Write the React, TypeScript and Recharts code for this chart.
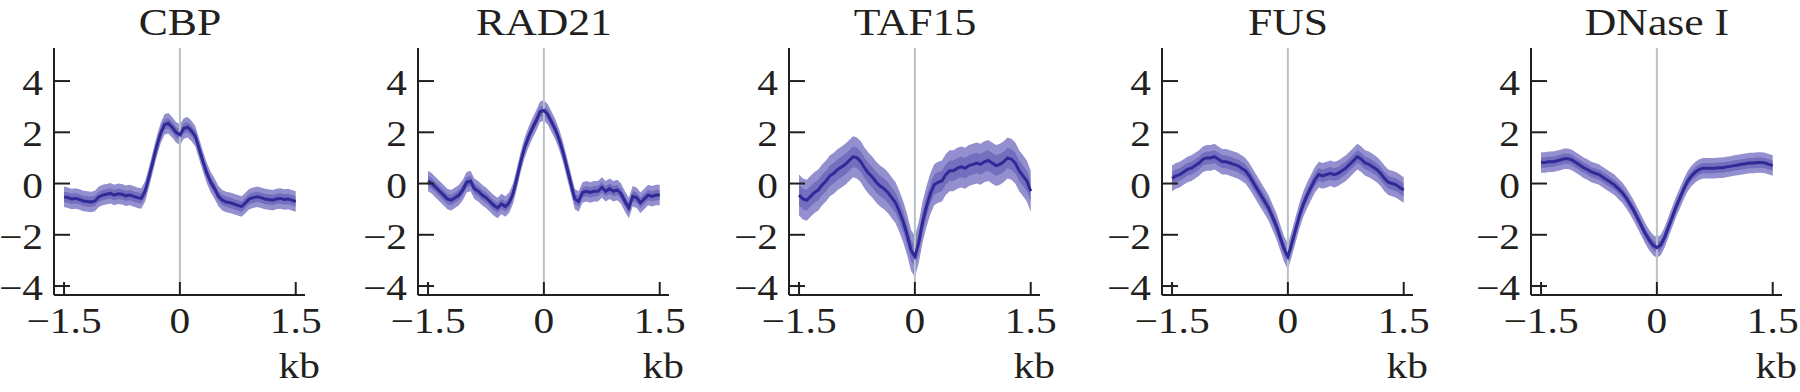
import React from 'react';
import { ComposedChart, Area, Line, XAxis, YAxis, ReferenceLine } from 'recharts';

// position along the region, kb
const KB = [
  -1.5, -1.45, -1.4, -1.35, -1.3, -1.25, -1.2, -1.15, -1.1, -1.05,
  -1.0, -0.95, -0.9, -0.85, -0.8, -0.75, -0.7, -0.65, -0.6, -0.55,
  -0.5, -0.45, -0.4, -0.35, -0.3, -0.25, -0.2, -0.15, -0.1, -0.05,
  0, 0.05, 0.1, 0.15, 0.2, 0.25, 0.3, 0.35, 0.4, 0.45,
  0.5, 0.55, 0.6, 0.65, 0.7, 0.75, 0.8, 0.85, 0.9, 0.95,
  1.0, 1.05, 1.1, 1.15, 1.2, 1.25, 1.3, 1.35, 1.4, 1.45, 1.5,
];

const CBP = [
  -0.52, -0.55, -0.6, -0.58, -0.62, -0.68, -0.7, -0.72, -0.68, -0.52,
  -0.45, -0.42, -0.38, -0.45, -0.4, -0.42, -0.48, -0.45, -0.5, -0.55,
  -0.58, -0.3, 0.25, 0.85, 1.45, 1.95, 2.3, 2.35, 2.2, 2.0,
  1.9, 2.15, 2.2, 2.05, 1.85, 1.35, 0.85, 0.4, 0.05, -0.2,
  -0.5, -0.65, -0.72, -0.75, -0.8, -0.85, -0.9, -0.75, -0.6, -0.55,
  -0.52, -0.55, -0.6, -0.62, -0.65, -0.6, -0.58, -0.62, -0.6, -0.65, -0.7,
];

const RAD21 = [
  0.1, 0.0, -0.15, -0.3, -0.45, -0.6, -0.65, -0.55, -0.45, -0.25,
  0.05, 0.1, -0.2, -0.3, -0.45, -0.55, -0.7, -0.85, -0.95, -0.8,
  -0.9, -0.75, -0.4, 0.2, 0.85, 1.4, 1.8, 2.15, 2.45, 2.8,
  2.85, 2.7, 2.4, 2.1, 1.7, 1.2, 0.6, 0.0, -0.6, -0.7,
  -0.35, -0.3, -0.35, -0.3, -0.3, -0.15, -0.3, -0.2, -0.3, -0.25,
  -0.4, -0.7, -0.95, -0.5, -0.55, -0.75, -0.6, -0.45, -0.5, -0.45, -0.45,
];

const TAF15 = [
  -0.45, -0.6, -0.65, -0.5, -0.35, -0.25, -0.05, 0.1, 0.3, 0.4,
  0.55, 0.65, 0.75, 0.9, 1.05, 1.0, 0.85, 0.6, 0.4, 0.25,
  0.05, -0.1, -0.2, -0.35, -0.55, -0.75, -1.1, -1.5, -2.0, -2.6,
  -2.85, -2.3, -1.5, -0.9, -0.4, -0.05, 0.05, 0.1, 0.35, 0.5,
  0.5, 0.6, 0.65, 0.6, 0.7, 0.75, 0.8, 0.75, 0.85, 0.9,
  0.8, 0.7, 0.75, 0.85, 1.0, 0.95, 0.8, 0.5, 0.3, 0.1, -0.3,
];

const FUS = [
  0.2, 0.3, 0.35, 0.45, 0.55, 0.6, 0.7, 0.8, 0.95, 1.0,
  1.0, 1.05, 0.95, 0.85, 0.85, 0.8, 0.75, 0.7, 0.6, 0.5,
  0.3, 0.05, -0.2, -0.45, -0.7, -0.95, -1.3, -1.65, -2.1, -2.55,
  -2.85, -2.35, -1.8, -1.25, -0.8, -0.45, -0.15, 0.15, 0.35, 0.3,
  0.35, 0.4, 0.35, 0.4, 0.5, 0.6, 0.75, 0.9, 1.05, 0.95,
  0.8, 0.75, 0.65, 0.55, 0.4, 0.2, 0.05, 0.0, -0.05, -0.15, -0.25,
];

const DNASE = [
  0.82, 0.82, 0.85, 0.85, 0.88, 0.92, 0.97, 0.97, 0.92, 0.82,
  0.72, 0.62, 0.55, 0.45, 0.4, 0.35, 0.25, 0.15, 0.05, -0.05,
  -0.2, -0.35, -0.55, -0.8, -1.05, -1.35, -1.65, -1.95, -2.2, -2.4,
  -2.5, -2.4, -2.1, -1.7, -1.3, -0.9, -0.55, -0.2, 0.1, 0.3,
  0.45, 0.55, 0.6, 0.6, 0.6, 0.6, 0.62, 0.62, 0.65, 0.67,
  0.7, 0.72, 0.75, 0.77, 0.8, 0.8, 0.82, 0.82, 0.8, 0.75, 0.7,
];

const TITLES = ['CBP', 'RAD21', 'TAF15', 'FUS', 'DNase I'];
const SERIES = [CBP, RAD21, TAF15, FUS, DNASE];
// half widths of the shaded bands
const OUTER_BAND = [0.4, 0.4, 0.8, 0.5, 0.4];
const INNER_BAND = [0.2, 0.2, 0.4, 0.25, 0.2];

const X_TICKS = [-1.5, 0, 1.5];
const Y_TICKS = [-4, -2, 0, 2, 4];

// layout
const AXIS_LEFT = [54, 418, 789, 1162, 1531];
const PLOT_W = 251;
const PLOT_TOP = 48;
const PLOT_BOTTOM = 295;
const Y_AXIS_W = 60;
const STRETCH = 1.15;
const FONT = '"Liberation Serif", "DejaVu Serif", serif';
const INK = '#231f20';

const fmt = (v: number) => String(v).replace('-', '\u2212');

const XTick = (props: any) => {
  const { x, y, payload } = props;
  return (
    <text transform={`translate(${x},${y + 38}) scale(${STRETCH},1)`} textAnchor="middle"
      fontFamily={FONT} fontSize={36} fill={INK}>{fmt(payload.value)}</text>
  );
};

const YTick = (props: any) => {
  const { x, y, payload } = props;
  return (
    <text transform={`translate(${x - 11},${y + 14}) scale(${STRETCH},1)`} textAnchor="end"
      fontFamily={FONT} fontSize={36} fill={INK}>{fmt(payload.value)}</text>
  );
};

const Panel = ({ idx }: { idx: number }) => {
  const vals = SERIES[idx];
  const o = OUTER_BAND[idx];
  const n = INNER_BAND[idx];
  const data = KB.map((x, i) => ({
    x,
    mean: vals[i],
    outer: [vals[i] - o, vals[i] + o],
    inner: [vals[i] - n, vals[i] + n],
  }));
  return (
    <div style={{ position: 'absolute', left: AXIS_LEFT[idx] - Y_AXIS_W, top: 0 }}>
      <ComposedChart width={Y_AXIS_W + PLOT_W + 29} height={392} data={data}
        margin={{ top: PLOT_TOP, right: 29, left: 0, bottom: 0 }}>
        <XAxis dataKey="x" type="number" domain={[-1.63, 1.62]} ticks={X_TICKS} allowDataOverflow
          height={392 - PLOT_BOTTOM} tickSize={-13} tickMargin={13} tick={<XTick />}
          axisLine={{ stroke: INK, strokeWidth: 2 }} tickLine={{ stroke: INK, strokeWidth: 2 }} />
        <YAxis type="number" domain={[-4.35, 5.29]} ticks={Y_TICKS} allowDataOverflow
          width={Y_AXIS_W} tickSize={-16} tickMargin={16} tick={<YTick />}
          axisLine={{ stroke: INK, strokeWidth: 2 }} tickLine={{ stroke: INK, strokeWidth: 2 }} />
        <ReferenceLine segment={[{ x: 0, y: 5.29 }, { x: 0, y: -3.85 }]} stroke="#b8c3c7" strokeWidth={2} />
        <Area dataKey="outer" type="linear" stroke="none" fill="#3d33a6" fillOpacity={0.55}
          isAnimationActive={false} />
        <Area dataKey="inner" type="linear" stroke="none" fill="#3a31a3" fillOpacity={0.35}
          isAnimationActive={false} />
        <Line dataKey="mean" type="linear" stroke="#302a98" strokeWidth={3} dot={false}
          isAnimationActive={false} />
      </ComposedChart>
    </div>
  );
};

export default function App() {
  return (
    <div style={{ position: 'absolute', left: 0, top: 0, width: 1800, height: 392, background: '#fff' }}>
      {TITLES.map((_, i) => <Panel key={i} idx={i} />)}
      <svg width={1800} height={392} style={{ position: 'absolute', left: 0, top: 0, pointerEvents: 'none' }}>
        {TITLES.map((t, i) => (
          <g key={t}>
            <text transform={`translate(${AXIS_LEFT[i] + 126},35) scale(${STRETCH},1)`} textAnchor="middle"
              fontFamily={FONT} fontSize={38} fill={INK}>{t}</text>
            <text transform={`translate(${AXIS_LEFT[i] + PLOT_W + 15},378) scale(${STRETCH},1)`} textAnchor="end"
              fontFamily={FONT} fontSize={36} fill={INK}>kb</text>
          </g>
        ))}
      </svg>
    </div>
  );
}
